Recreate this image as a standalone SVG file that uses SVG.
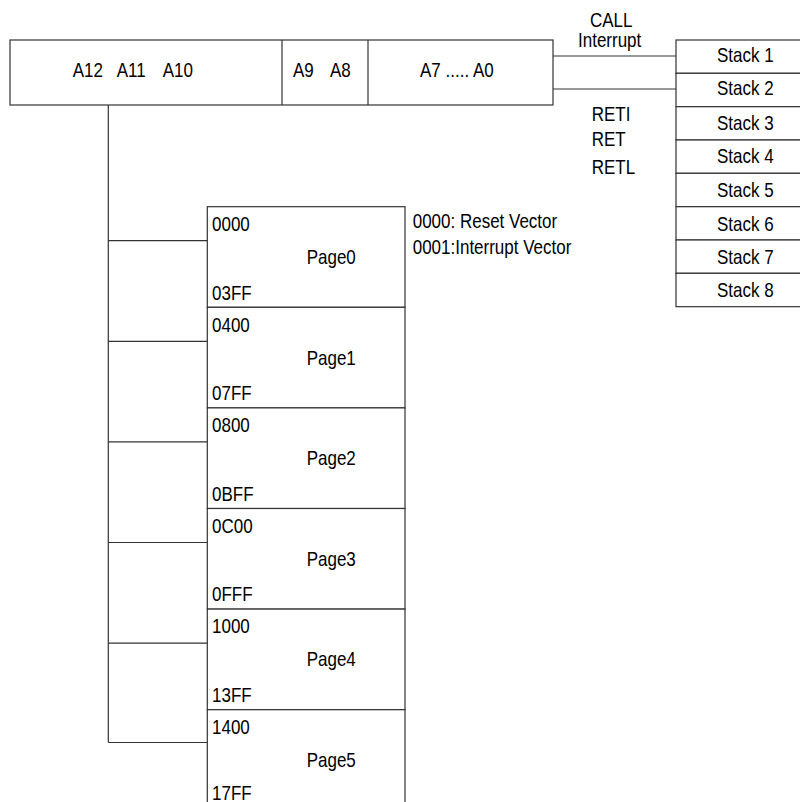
<svg xmlns="http://www.w3.org/2000/svg" width="800" height="802" viewBox="0 0 800 802">
<style>
.b{fill:#fff;stroke:#333;stroke-width:1.2}
.l{stroke:#333;stroke-width:1.2;fill:none}
text{font-family:"Liberation Sans",Arial,sans-serif;font-size:20px;fill:#000}
</style>
<rect width="800" height="802" fill="#fff"/>
<g id="address">
<rect class="b" x="10" y="40" width="543" height="65"/>
<line class="l" x1="282" y1="40" x2="282" y2="105"/>
<line class="l" x1="368" y1="40" x2="368" y2="105"/>
<text transform="translate(72.7,76.7) scale(0.85,1)">A12</text>
<text transform="translate(116.7,76.7) scale(0.85,1)">A11</text>
<text transform="translate(162.7,76.7) scale(0.85,1)">A10</text>
<text transform="translate(293,76.7) scale(0.85,1)">A9</text>
<text transform="translate(330,76.7) scale(0.85,1)">A8</text>
<text transform="translate(420,76.7) scale(0.85,1)">A7 ..... A0</text>
</g>
<g id="stack">
<rect class="b" x="676" y="40" width="140" height="33.3"/>
<rect class="b" x="676" y="73.3" width="140" height="33.4"/>
<rect class="b" x="676" y="106.7" width="140" height="33.3"/>
<rect class="b" x="676" y="140" width="140" height="33.3"/>
<rect class="b" x="676" y="173.3" width="140" height="33.4"/>
<rect class="b" x="676" y="206.7" width="140" height="33.3"/>
<rect class="b" x="676" y="240" width="140" height="33.3"/>
<rect class="b" x="676" y="273.3" width="140" height="33.4"/>
<text transform="translate(717,61.7) scale(0.85,1)">Stack 1</text>
<text transform="translate(717,95) scale(0.85,1)">Stack 2</text>
<text transform="translate(717,130) scale(0.85,1)">Stack 3</text>
<text transform="translate(717,163.3) scale(0.85,1)">Stack 4</text>
<text transform="translate(717,196.7) scale(0.85,1)">Stack 5</text>
<text transform="translate(717,230.7) scale(0.85,1)">Stack 6</text>
<text transform="translate(717,264) scale(0.85,1)">Stack 7</text>
<text transform="translate(717,297.3) scale(0.85,1)">Stack 8</text>
</g>
<g id="pages">
<g id="page0">
<rect class="b" x="207.3" y="206.7" width="197.7" height="100.6"/>
<text transform="translate(212,231) scale(0.85,1)">0000</text>
<text transform="translate(306.7,264) scale(0.85,1)">Page0</text>
<text transform="translate(212,299.5) scale(0.85,1)">03FF</text>
</g>
<g id="page1">
<rect class="b" x="207.3" y="307.3" width="197.7" height="100.6"/>
<text transform="translate(212,331.6) scale(0.85,1)">0400</text>
<text transform="translate(306.7,364.6) scale(0.85,1)">Page1</text>
<text transform="translate(212,400.1) scale(0.85,1)">07FF</text>
</g>
<g id="page2">
<rect class="b" x="207.3" y="407.9" width="197.7" height="100.6"/>
<text transform="translate(212,432.2) scale(0.85,1)">0800</text>
<text transform="translate(306.7,465.2) scale(0.85,1)">Page2</text>
<text transform="translate(212,500.7) scale(0.85,1)">0BFF</text>
</g>
<g id="page3">
<rect class="b" x="207.3" y="508.5" width="197.7" height="100.6"/>
<text transform="translate(212,532.8) scale(0.85,1)">0C00</text>
<text transform="translate(306.7,565.8) scale(0.85,1)">Page3</text>
<text transform="translate(212,601.3) scale(0.85,1)">0FFF</text>
</g>
<g id="page4">
<rect class="b" x="207.3" y="609.1" width="197.7" height="100.6"/>
<text transform="translate(212,633.4) scale(0.85,1)">1000</text>
<text transform="translate(306.7,666.4) scale(0.85,1)">Page4</text>
<text transform="translate(212,701.9) scale(0.85,1)">13FF</text>
</g>
<g id="page5">
<rect class="b" x="207.3" y="709.7" width="197.7" height="110"/>
<text transform="translate(212,734) scale(0.85,1)">1400</text>
<text transform="translate(306.7,767) scale(0.85,1)">Page5</text>
<text transform="translate(212,799.5) scale(0.85,1)">17FF</text>
</g>
</g>
<g id="labels">
<text transform="translate(590,27) scale(0.85,1)">CALL</text>
<text transform="translate(578,46.7) scale(0.85,1)">Interrupt</text>
<text transform="translate(591.7,121) scale(0.85,1)">RETI</text>
<text transform="translate(591.7,145.5) scale(0.85,1)">RET</text>
<text transform="translate(591.7,173.5) scale(0.85,1)">RETL</text>
<text transform="translate(412.7,227.7) scale(0.85,1)">0000: Reset Vector</text>
<text transform="translate(412.7,254) scale(0.85,1)">0001:Interrupt Vector</text>
</g>
<g id="connectors">
<line class="l" x1="553" y1="56" x2="676" y2="56"/>
<line class="l" x1="553" y1="89" x2="676" y2="89"/>
<line class="l" x1="108.3" y1="105" x2="108.3" y2="742.5"/>
<line class="l" x1="108.3" y1="240.7" x2="207.3" y2="240.7"/>
<line class="l" x1="108.3" y1="341.3" x2="207.3" y2="341.3"/>
<line class="l" x1="108.3" y1="441.9" x2="207.3" y2="441.9"/>
<line class="l" x1="108.3" y1="542.5" x2="207.3" y2="542.5"/>
<line class="l" x1="108.3" y1="643.1" x2="207.3" y2="643.1"/>
<line class="l" x1="108.3" y1="742.5" x2="207.3" y2="742.5"/>
</g>
</svg>
